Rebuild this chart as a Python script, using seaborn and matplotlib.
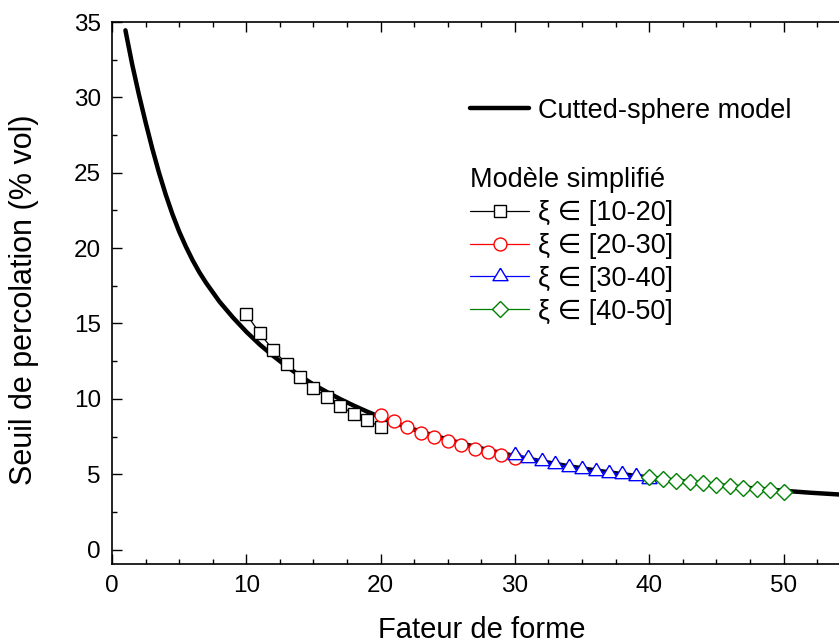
import numpy as np
import pandas as pd
import seaborn as sns
import matplotlib.pyplot as plt
from matplotlib.ticker import MultipleLocator

# Cutted-sphere model
curve_x = [1.0, 1.5, 2.0, 2.5, 3.0, 3.5, 4.0, 4.5, 5.0, 5.5, 6.0, 6.5, 7.0,
           8.0, 9.0, 10.0, 11.0, 12.0, 13.0, 14.0, 15.0, 16.0, 17.0, 18.0,
           19.0, 20.0, 22.0, 24.0, 26.0, 28.0, 30.0, 32.0, 34.0, 36.0, 38.0,
           40.0, 42.0, 44.0, 46.0, 48.0, 50.0, 52.0, 54.2]
curve_y = [34.45, 32.2, 30.2, 28.35, 26.6, 25.0, 23.55, 22.25, 21.1, 20.1,
           19.2, 18.4, 17.7, 16.45, 15.4, 14.45, 13.6, 12.85, 12.15, 11.52,
           10.95, 10.45, 9.98, 9.55, 9.15, 8.78, 8.1, 7.55, 7.05, 6.6, 6.2,
           5.85, 5.53, 5.25, 5.0, 4.78, 4.57, 4.38, 4.2, 4.04, 3.9, 3.77, 3.65]

# Modele simplifie, one series per range of xi
x_10_20 = list(range(10, 21))
y_10_20 = [15.63, 14.35, 13.24, 12.31, 11.45, 10.72, 10.12, 9.52, 8.99, 8.59, 8.13]
x_20_30 = list(range(20, 31))
y_20_30 = [8.92, 8.53, 8.11, 7.75, 7.49, 7.20, 6.93, 6.67, 6.47, 6.27, 6.07]
x_30_40 = list(range(30, 41))
y_30_40 = [6.30, 6.10, 5.88, 5.68, 5.49, 5.33, 5.20, 5.10, 4.98, 4.85, 4.68]
x_40_50 = list(range(40, 51))
y_40_50 = [4.79, 4.66, 4.57, 4.46, 4.39, 4.28, 4.21, 4.10, 4.00, 3.95, 3.84]

series_labels = ["ξ ∈ [10-20]", "ξ ∈ [20-30]", "ξ ∈ [30-40]", "ξ ∈ [40-50]"]
series_colors = ["black", "#ff0000", "#0000ff", "#008000"]

sns.set_style("ticks")
plt.rcParams["font.family"] = ["Liberation Sans", "DejaVu Sans"]
plt.rcParams.update({"text.color": "black", "axes.labelcolor": "black",
                     "xtick.color": "black", "ytick.color": "black",
                     "axes.edgecolor": "black"})

fig = plt.figure(figsize=(8.39, 6.44), dpi=100)
ax = fig.add_axes([0.1335, 0.1242, 0.8665, 0.8416])

# curve
sns.lineplot(x=curve_x, y=curve_y, ax=ax, color="black", linewidth=3.2,
             label="Cutted-sphere model", sort=False)

# centroid-centred triangle, like the original symbol
tri = [(0, 1), (-0.9, -0.5), (0.9, -0.5), (0, 1)]
markers = ["s", "o", tri, "D"]
msizes = [9, 9.3, 12, 7.7]
xs = [x_10_20, x_20_30, x_30_40, x_40_50]
ys = [y_10_20, y_20_30, y_30_40, y_40_50]

handles = []
for xv, yv, lab, col, mk, ms in zip(xs, ys, series_labels, series_colors, markers, msizes):
    sns.lineplot(x=xv, y=yv, ax=ax, color=col, linewidth=0.9, marker=mk,
                 markersize=ms, markerfacecolor="white", markeredgecolor=col,
                 markeredgewidth=1.0, label=lab)
    handles.append(ax.lines[-1])

ax.set_xlim(0, 54.13)
ax.set_ylim(-0.96, 35)
ax.xaxis.set_major_locator(MultipleLocator(10))
ax.xaxis.set_minor_locator(MultipleLocator(2.5))
ax.yaxis.set_major_locator(MultipleLocator(5))
ax.yaxis.set_minor_locator(MultipleLocator(2.5))

ax.tick_params(which="both", direction="in", top=True, right=False,
               width=1.0, labelsize=17.5, pad=8)
ax.tick_params(which="major", length=7)
ax.tick_params(which="minor", length=3.5)
for side in ["left", "bottom", "top"]:
    ax.spines[side].set_linewidth(1.2)
ax.spines["right"].set_visible(False)

ax.set_xlabel("Fateur de forme", fontsize=21)
ax.set_ylabel("Seuil de percolation (% vol)", fontsize=22)
ax.xaxis.set_label_coords(0.508, -0.095)
ax.yaxis.set_label_coords(-0.100, 0.487)

# legends
leg1 = ax.legend(handles=[ax.lines[0]], labels=["Cutted-sphere model"],
                 loc="upper left", bbox_to_anchor=(0.560, 0.848),
                 bbox_transform=fig.transFigure, frameon=False, fontsize=19.5,
                 handlelength=2.2, handletextpad=0.33, borderpad=0,
                 borderaxespad=0)
ax.add_artist(leg1)
leg2 = ax.legend(handles=handles, labels=series_labels, title="Modèle simplifié",
                 alignment="left", loc="upper left",
                 bbox_to_anchor=(0.560, 0.740), bbox_transform=fig.transFigure,
                 frameon=False, fontsize=19.5, title_fontsize=19.5,
                 handlelength=2.2, handletextpad=0.33, borderpad=0,
                 borderaxespad=0, labelspacing=0.25)

fig.savefig("out.png", dpi=100)
